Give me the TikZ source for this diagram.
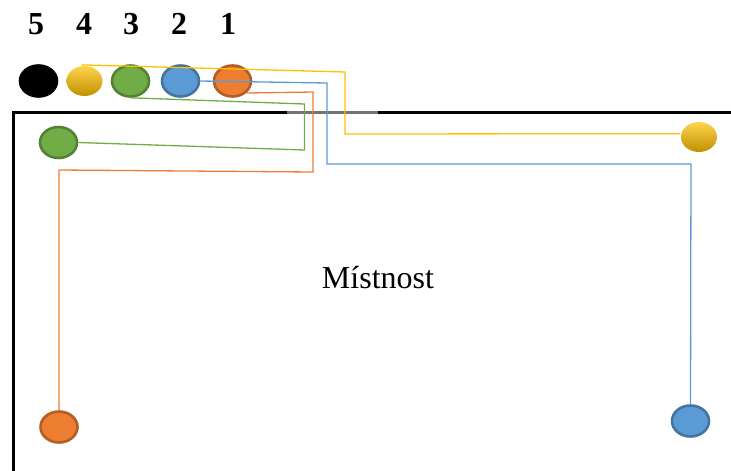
\documentclass[tikz,border=0pt]{standalone}
\usepackage{fontspec}
\setmainfont{Liberation Serif}
\usetikzlibrary{shapes.geometric}
\definecolor{oranz}{HTML}{ED7D31}
\definecolor{modra}{HTML}{5B9BD5}
\definecolor{zelena}{HTML}{70AD47}
\definecolor{zluta}{HTML}{FFC000}
\tikzset{
	bod/.style={ellipse, inner sep=0, minimum width=37, minimum height=31, line width=2.6},
	bodzluty/.style={bod, draw=none, minimum width=36, minimum height=30, top color=zluta!70!white, middle color=zluta, bottom color=zluta!75!black},
	bodoranz/.style={bod, fill=oranz, draw=oranz!75!black},
	bodmodry/.style={bod, fill=modra, draw=modra!75!black},
	bodzeleny/.style={bod, fill=zelena, draw=zelena!75!black},
	kabel/.style={line width=1.3}
}
\begin{document}
\begin{tikzpicture}[x=1pt, y=-1pt]
\useasboundingbox (0,0) rectangle (731,471);

% mistnost
\draw[line width=3] (13,471)--(13,112)--(731,112);
\draw[color=black!55!white, line width=3] (287,112)--(378,112);
\node (mistnost) at (378,278) {\fontsize{32}{36}\selectfont M\'istnost};

\foreach \n/\x in {5/36,4/84,3/131,2/179,1/228}{
	\node (cislo\n) at (\x,24) {\fontsize{32}{36}\selectfont\bfseries \n};
}

\node[bod, fill=black, draw=black] (a5) at (38.5,81) {};
\node[bodzluty] (a4) at (84.5,81) {};
\node[bodzeleny] (a3) at (130.5,81) {};
\node[bodmodry] (a2) at (180.5,81) {};
\node[bodoranz] (a1) at (232.5,81) {};

\node[bodzeleny] (b3) at (58.5,142.5) {};
\node[bodzluty] (b4) at (699,137) {};
\node[bodoranz] (b1) at (59,427) {};
\node[bodmodry] (b2) at (690.5,421) {};

\coordinate (z1) at (345,72);
\coordinate (z2) at (345,134);
\coordinate (m1) at (327,83);
\coordinate (m2) at (327,164);
\coordinate (m3) at (691,164);
\coordinate (o1) at (313,92);
\coordinate (o2) at (313,172);
\coordinate (o3) at (59,170);
\coordinate (g1) at (304.5,104);
\coordinate (g2) at (304.5,150);

\draw[kabel, color=zluta] (a4.100)--(z1)--(z2)--(b4.170);
\draw[kabel, color=modra] (a2.east)--(m1)--(m2)--(m3)--(b2.north);
\draw[kabel, color=oranz] (a1.-41)--(o1)--(o2)--(o3)--(b1.north);
\draw[kabel, color=zelena] (a3.south)--(g1)--(g2)--(b3.east);

\end{tikzpicture}
\end{document}
